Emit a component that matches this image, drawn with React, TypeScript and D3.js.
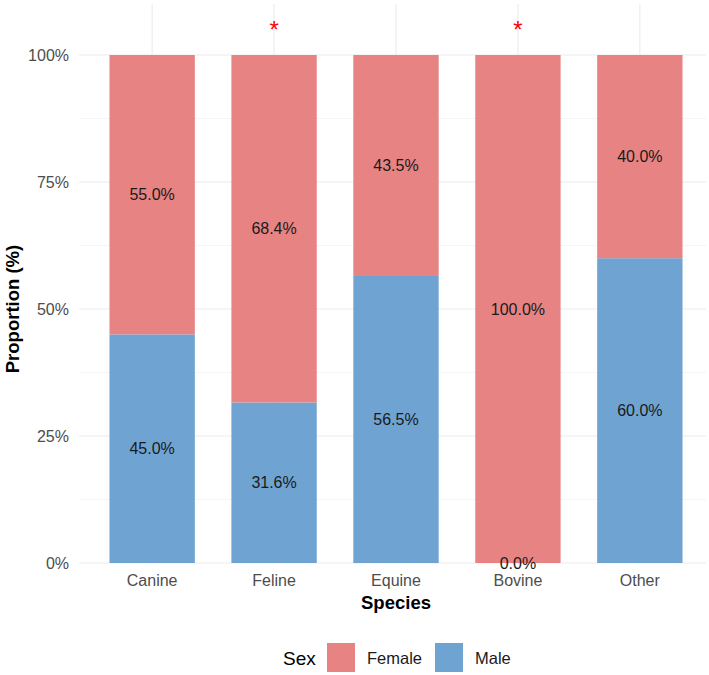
import * as d3 from "d3";
import { useEffect, useRef } from "react";

const species = ["Canine", "Feline", "Equine", "Bovine", "Other"];
const malePct = [45.0, 31.6, 56.5, 0.0, 60.0];
const femalePct = [55.0, 68.4, 43.5, 100.0, 40.0];
const significant = ["Feline", "Bovine"];
const yTicks = [0, 0.25, 0.5, 0.75, 1];
const yMinor = [0.125, 0.375, 0.625, 0.875];
const sexes = ["Female", "Male"];
const colors: Record<string, string> = { Female: "#E88383", Male: "#6FA4D2" };

export default function App() {
  const ref = useRef<SVGSVGElement>(null);

  useEffect(() => {
    document.body.style.margin = "0";
    const svg = d3.select(ref.current);
    svg.selectAll("*").remove();

    const font = "'Liberation Sans', Arial, sans-serif";
    const left = 79, right = 706, top = 4, bottom = 563;

    const x = d3.scaleBand().domain(species).range([left, 713]).paddingInner(0.3).paddingOuter(0.25);
    const y = d3.scaleLinear().domain([0, 1]).range([bottom, 55]);

    // grid
    const g = svg.append("g");
    g.selectAll("line.minor")
      .data(yMinor)
      .enter()
      .append("line")
      .attr("x1", left).attr("x2", right)
      .attr("y1", (d) => y(d)).attr("y2", (d) => y(d))
      .attr("stroke", "#f2f2f2").attr("stroke-width", 0.8);
    g.selectAll("line.major")
      .data(yTicks)
      .enter()
      .append("line")
      .attr("x1", left).attr("x2", right)
      .attr("y1", (d) => y(d)).attr("y2", (d) => y(d))
      .attr("stroke", "#ebebeb").attr("stroke-width", 1.1);
    g.selectAll("line.vert")
      .data(species)
      .enter()
      .append("line")
      .attr("x1", (d) => x(d)! + x.bandwidth() / 2).attr("x2", (d) => x(d)! + x.bandwidth() / 2)
      .attr("y1", top).attr("y2", bottom)
      .attr("stroke", "#ebebeb").attr("stroke-width", 1.1);

    const rows = species.map((s, i) => ({ s, male: malePct[i] / 100, female: femalePct[i] / 100 }));

    // bars
    svg.selectAll("rect.male")
      .data(rows)
      .enter()
      .append("rect")
      .attr("x", (d) => x(d.s)!)
      .attr("width", x.bandwidth())
      .attr("y", (d) => y(d.male))
      .attr("height", (d) => y(0) - y(d.male))
      .attr("fill", colors.Male);
    svg.selectAll("rect.female")
      .data(rows)
      .enter()
      .append("rect")
      .attr("x", (d) => x(d.s)!)
      .attr("width", x.bandwidth())
      .attr("y", (d) => y(d.male + d.female))
      .attr("height", (d) => y(d.male) - y(d.male + d.female))
      .attr("fill", colors.Female);

    // value labels
    const lab = svg.append("g").attr("font-family", font).attr("font-size", 16).attr("fill", "#1a1a1a").attr("text-anchor", "middle");
    rows.forEach((d) => {
      const cx = x(d.s)! + x.bandwidth() / 2;
      lab.append("text").attr("x", cx).attr("y", y(d.male / 2)).attr("dy", "0.35em").text(`${(d.male * 100).toFixed(1)}%`);
      lab.append("text").attr("x", cx).attr("y", y(d.male + d.female / 2)).attr("dy", "0.35em").text(`${(d.female * 100).toFixed(1)}%`);
    });

    // asterisks
    svg.selectAll("text.star")
      .data(significant)
      .enter()
      .append("text")
      .attr("x", (d) => x(d)! + x.bandwidth() / 2)
      .attr("y", 38)
      .attr("text-anchor", "middle")
      .attr("font-family", font)
      .attr("font-size", 24)
      .attr("fill", "#ff0000")
      .text("*");

    // y axis labels
    svg.selectAll("text.ytick")
      .data(yTicks)
      .enter()
      .append("text")
      .attr("x", 69)
      .attr("y", (d) => y(d))
      .attr("dy", "0.35em")
      .attr("text-anchor", "end")
      .attr("font-family", font)
      .attr("font-size", 16)
      .attr("fill", "#4d4d4d")
      .text((d) => `${Math.round(d * 100)}%`);

    // x axis labels
    svg.selectAll("text.xtick")
      .data(species)
      .enter()
      .append("text")
      .attr("x", (d) => x(d)! + x.bandwidth() / 2)
      .attr("y", 580)
      .attr("dy", "0.35em")
      .attr("text-anchor", "middle")
      .attr("font-family", font)
      .attr("font-size", 16)
      .attr("fill", "#4d4d4d")
      .text((d) => d);

    // axis titles
    svg.append("text")
      .attr("x", x("Equine")! + x.bandwidth() / 2)
      .attr("y", 603)
      .attr("dy", "0.35em")
      .attr("text-anchor", "middle")
      .attr("font-family", font)
      .attr("font-weight", "bold")
      .attr("font-size", 18.5)
      .attr("fill", "#000")
      .text("Species");
    svg.append("text")
      .attr("transform", `translate(13,${y(0.5)}) rotate(-90)`)
      .attr("dy", "0.35em")
      .attr("text-anchor", "middle")
      .attr("font-family", font)
      .attr("font-weight", "bold")
      .attr("font-size", 18.5)
      .attr("fill", "#000")
      .text("Proportion (%)");

    // legend
    const leg = svg.append("g").attr("font-family", font);
    leg.append("text").attr("x", 283).attr("y", 658).attr("dy", "0.35em").attr("font-size", 19).attr("fill", "#000").text("Sex");
    const lx = d3.scalePoint().domain(sexes).range([327, 435]);
    sexes.forEach((s) => {
      leg.append("rect").attr("x", lx(s)!).attr("y", 643).attr("width", 28).attr("height", 29).attr("fill", colors[s]);
      leg.append("text").attr("x", lx(s)! + 40).attr("y", 658).attr("dy", "0.35em").attr("font-size", 16.5).attr("fill", "#1a1a1a").text(s);
    });
  }, []);

  return <svg ref={ref} width={709} height={675} style={{ display: "block", background: "#fff" }}></svg>;
}
